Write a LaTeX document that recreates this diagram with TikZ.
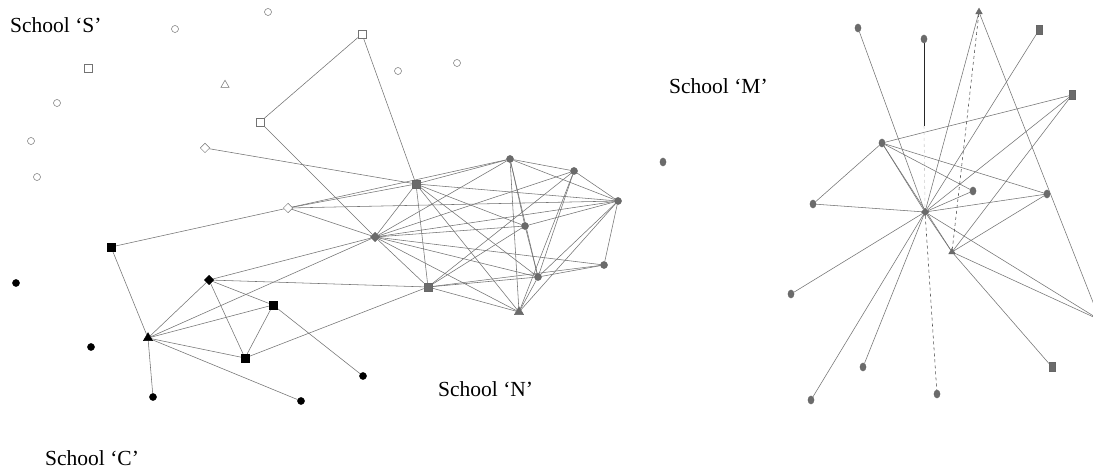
\documentclass[tikz,border=0pt]{standalone}
\usepackage{fontspec}
\setmainfont{Liberation Serif}
\usetikzlibrary{shapes.geometric,backgrounds}

\begin{document}
\begin{tikzpicture}[x=1pt, y=-1pt,
    vtx/.style={inner sep=0pt, line width=.5pt},
    dot/.style={vtx, circle, minimum size=7pt},
    sqr/.style={vtx, rectangle, minimum size=8pt},
    slim/.style={vtx, rectangle, minimum width=5.5pt, minimum height=8.5pt},
    dmd/.style={vtx, diamond, minimum size=9.5pt},
    tri/.style={vtx, regular polygon, regular polygon sides=3, minimum size=10.5pt},
    oval/.style={vtx, ellipse, minimum width=6pt, minimum height=8pt},
    schS/.style={draw=black!55, fill=white},
    schN/.style={draw=black!60, fill=black!58},
    schC/.style={draw=black, fill=black},
    schM/.style={draw=black!60, fill=black!58},
    tieline/.style={draw=black!55, line width=.55pt},
    schoolname/.style={font=\fontsize{21.5}{25}\selectfont, anchor=base west, inner sep=0pt}]
    \useasboundingbox (0,0) rectangle (1093,470);
    % School S
    \node[dot, schS] (S1) at (268,12) {};
    \node[dot, schS] (S2) at (175,29) {};
    \node[sqr, schS] (S3) at (88,68) {};
    \node[dot, schS] (S4) at (57,103) {};
    \node[dot, schS] (S5) at (31,141) {};
    \node[dot, schS] (S6) at (37,177) {};
    \node[tri, schS, minimum size=9.5pt] (S7) at (225,85) {};
    \node[dot, schS] (S8) at (398,71) {};
    \node[dot, schS] (S9) at (457,63) {};
    \node[sqr, schS] (S10) at (362,34) {};
    \node[sqr, schS] (S11) at (260,122) {};
    \node[dmd, schS] (S12) at (205,148) {};
    \node[dmd, schS] (S13) at (288,208) {};
    % School N
    \node[sqr, schN] (N1) at (416,184) {};
    \node[dmd, schN] (N2) at (375,237) {};
    \node[sqr, schN] (N3) at (428,287) {};
    \node[dot, schN] (N4) at (510,159) {};
    \node[dot, schN] (N5) at (574,171) {};
    \node[dot, schN] (N6) at (618,201) {};
    \node[dot, schN] (N7) at (525,226) {};
    \node[dot, schN] (N8) at (604,265) {};
    \node[dot, schN] (N9) at (538,277) {};
    \node[tri, schN] (N10) at (519,312) {};
    % School C
    \node[sqr, schC] (C1) at (111,247) {};
    \node[dot, schC] (C2) at (16,283) {};
    \node[dmd, schC] (C3) at (209,280) {};
    \node[sqr, schC] (C4) at (273,305) {};
    \node[tri, schC] (C5) at (148,338) {};
    \node[dot, schC] (C6) at (91,347) {};
    \node[sqr, schC] (C7) at (245,358) {};
    \node[dot, schC] (C8) at (363,376) {};
    \node[dot, schC] (C9) at (153,397) {};
    \node[dot, schC] (C10) at (301,401) {};
    % School M
    \node[oval, schM] (M0) at (663,162) {};
    \node[oval, schM] (M1) at (858,28) {};
    \node[oval, schM] (M2) at (924,39) {};
    \node[tri, schM, minimum size=7.5pt] (M3) at (979,12) {};
    \node[slim, schM] (M4) at (1039,30) {};
    \node[slim, schM] (M5) at (1072,95) {};
    \node[oval, schM] (M6) at (882,143) {};
    \node[oval, schM] (M7) at (973,191) {};
    \node[oval, schM] (M8) at (1047,194) {};
    \node[oval, schM] (M9) at (813,204) {};
    \node[dmd, schM, minimum size=7.5pt] (M10) at (925,212) {};
    \node[tri, schM, minimum size=7.5pt] (M11) at (952,252) {};
    \node[oval, schM] (M12) at (791,294) {};
    \node[oval, schM] (M13) at (863,367) {};
    \node[oval, schM] (M14) at (811,400) {};
    \node[oval, schM] (M15) at (937,394) {};
    \node[slim, schM] (M16) at (1052,367) {};
    \coordinate (M2end) at (924,126);
    \coordinate (Mout) at (1100,320);
    % school names
    \node[schoolname] (LabS) at (10,33) {School ‘S’};
    \node[schoolname] (LabM) at (669,94) {School ‘M’};
    \node[schoolname] (LabN) at (438,396) {School ‘N’};
    \node[schoolname] (LabC) at (45,465) {School ‘C’};
    % ties
    \begin{scope}[on background layer]
        \fill[white] (0,0) rectangle (1093,470);
        \clip (0,0) rectangle (1093,470);
        \foreach \a/\b in {S10/S11, S10/N1, S11/N2, S12/N1, S13/N1, S13/N4, S13/N6, S13/N2, S13/C1}
            \draw[tieline] (\a) -- (\b);
        \foreach \a/\b in {N1/N2, N1/N3, N1/N4, N1/N6, N1/N7, N1/N9, N1/N10,
                N2/N3, N2/N4, N2/N5, N2/N6, N2/N7, N2/N8, N2/N9, N2/N10,
                N3/N5, N3/N7, N3/N8, N3/N9, N3/N10,
                N4/N5, N4/N6, N4/N7, N4/N9, N4/N10,
                N5/N6, N5/N9, N5/N10,
                N6/N7, N6/N8, N6/N9, N6/N10,
                N7/N9, N8/N9, N9/N10}
            \draw[tieline] (\a) -- (\b);
        \foreach \a/\b in {C1/C5, C3/C4, C3/C5, C3/C7, C3/N2, C3/N3, C4/C5, C4/C7, C4/C8,
                C5/C7, C5/C9, C5/C10, C5/N2, C7/N3}
            \draw[tieline] (\a) -- (\b);
        \foreach \a/\b in {M1/M10, M3/M10, M3/Mout, M4/M10, M5/M6, M5/M10, M5/M11,
                M6/M7, M6/M8, M6/M9, M6/M10, M6/M11, M7/M10, M8/M10, M8/M11, M9/M10,
                M10/M11, M10/M12, M10/M13, M10/M14, M10/Mout, M11/M16, M11/Mout}
            \draw[tieline] (\a) -- (\b);
        \draw[tieline, draw=black!70, dashed] (M3) -- (M11);
        \draw[tieline, draw=black!70, dashed] (M10) -- (M15);
        \draw[tieline, draw=black!20, dashed] (M2end) -- (M10);
        \draw[tieline, draw=black!85, line width=.7pt] (M2) -- (M2end);
    \end{scope}
\end{tikzpicture}
\end{document}
